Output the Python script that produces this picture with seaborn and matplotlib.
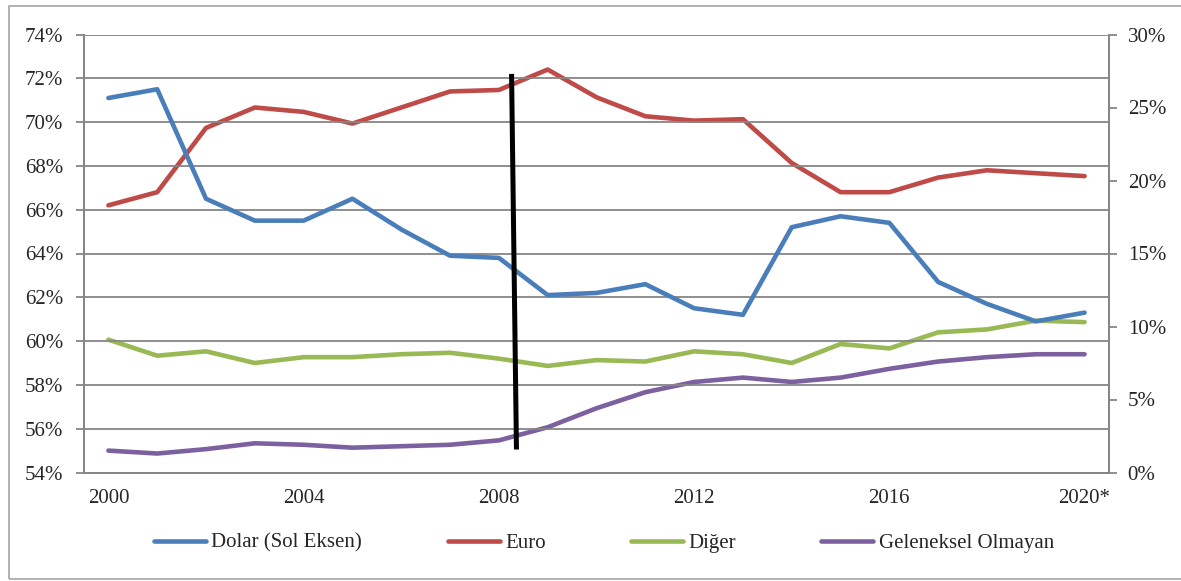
import matplotlib
matplotlib.use("Agg")
import matplotlib.pyplot as plt
import seaborn as sns
import pandas as pd
from matplotlib.patches import Rectangle
from matplotlib.ticker import FixedLocator, PercentFormatter

# Reserve shares (%)
years = [str(y) for y in range(2000, 2020)] + ["2020*"]
dolar = [71.1, 71.5, 66.5, 65.5, 65.5, 66.5, 65.1, 63.9, 63.8, 62.1, 62.2,
         62.6, 61.5, 61.2, 65.2, 65.7, 65.4, 62.7, 61.7, 60.9, 61.3]
euro = [18.3, 19.2, 23.6, 25.0, 24.7, 23.9, 25.0, 26.1, 26.2, 27.6, 25.7,
        24.4, 24.1, 24.2, 21.2, 19.2, 19.2, 20.2, 20.7, 20.5, 20.3]
diger = [9.1, 8.0, 8.3, 7.5, 7.9, 7.9, 8.1, 8.2, 7.8, 7.3, 7.7,
         7.6, 8.3, 8.1, 7.5, 8.8, 8.5, 9.6, 9.8, 10.4, 10.3]
geleneksel_olmayan = [1.5, 1.3, 1.6, 2.0, 1.9, 1.7, 1.8, 1.9, 2.2, 3.1, 4.4,
                      5.5, 6.2, 6.5, 6.2, 6.5, 7.1, 7.6, 7.9, 8.1, 8.1]

# 2008 crisis marker line (x in category units, y on left axis)
crisis_x = [8.26, 8.36]
crisis_y = [72.2, 55.05]

df = pd.DataFrame({"year": years, "Dolar": dolar, "Euro": euro,
                   "Diger": diger, "Geleneksel": geleneksel_olmayan})

sns.set_theme(style="white")
plt.rcParams["font.family"] = ["Liberation Serif", "DejaVu Serif"]
plt.rcParams["font.size"] = 15

fig = plt.figure(figsize=(11.81, 5.81), dpi=100)
ax = fig.add_axes([84 / 1181, 1 - 472.5 / 581, (1109 - 84) / 1181, 438 / 581])
ax2 = ax.twinx()

blue, red, green, purple = "#4A7EBB", "#BE4B48", "#98B954", "#7D60A0"
gray = "#868686"
lw = 3.3

sns.lineplot(data=df, x="year", y="Dolar", ax=ax, color=blue, linewidth=lw,
             sort=False, label="Dolar (Sol Eksen)", legend=False)
sns.lineplot(data=df, x="year", y="Euro", ax=ax2, color=red, linewidth=lw,
             sort=False, label="Euro", legend=False)
sns.lineplot(data=df, x="year", y="Diger", ax=ax2, color=green, linewidth=lw,
             sort=False, label="Diğer", legend=False)
sns.lineplot(data=df, x="year", y="Geleneksel", ax=ax2, color=purple, linewidth=lw,
             sort=False, label="Geleneksel Olmayan", legend=False)

ax.plot(crisis_x, crisis_y, color="black", linewidth=3.6, zorder=5,
        solid_capstyle="butt")
ax.set_zorder(ax2.get_zorder() + 1)
ax.patch.set_visible(False)

# left axis
ax.set_ylim(54, 74)
ax.set_yticks(range(54, 75, 2))
ax.yaxis.set_major_formatter(PercentFormatter(decimals=0))
ax.grid(axis="y", color=gray, linewidth=1.3)
ax.grid(axis="x", visible=False)

# right axis
ax2.set_ylim(0, 30)
ax2.set_yticks(range(0, 31, 5))
ax2.yaxis.set_major_formatter(PercentFormatter(decimals=0))
ax2.grid(False)

# x axis: tick marks at category boundaries, labels every 4 years
n = len(years)
ax.set_xlim(-0.5, n - 0.5)
ax.xaxis.set_major_locator(FixedLocator([i - 0.5 for i in range(n + 1)]))
ax.set_xticklabels([])
ax.xaxis.set_minor_locator(FixedLocator(list(range(0, n, 4))))
ax.set_xticklabels([years[i] for i in range(0, n, 4)], minor=True)
ax.tick_params(axis="x", which="minor", length=0, pad=12, labelsize=15)
ax.tick_params(axis="x", which="major", length=6, width=1.3, color=gray, direction="out")
ax.tick_params(axis="y", length=6, width=1.3, color=gray, direction="out",
               labelsize=15, pad=9)
ax2.tick_params(axis="y", length=6, width=1.3, color=gray, direction="out",
                labelsize=15, pad=7.5)
ax.set_xlabel("")
ax.set_ylabel("")
ax2.set_xlabel("")
ax2.set_ylabel("")

for a in (ax, ax2):
    for s in a.spines.values():
        s.set_color(gray)
        s.set_linewidth(1.3)
    a.spines["top"].set_visible(False)

handles = ax.get_lines()[:1] + ax2.get_lines()[:3]
labels = ["Dolar (Sol Eksen)", "Euro", "Diğer", "Geleneksel Olmayan"]
leg = fig.legend(handles, labels, loc="center", ncol=4, frameon=False,
                 bbox_to_anchor=(604 / 1181, 1 - 543 / 581), fontsize=15,
                 handlelength=2.5, handletextpad=0.25, columnspacing=4.1)
for h in leg.legend_handles:
    h.set_solid_capstyle("round")

# outer frame
fig.add_artist(Rectangle((9 / 1181, 1 - 579 / 581), 1.2, (579 - 5.5) / 581,
                         transform=fig.transFigure, fill=False,
                         edgecolor="#a6a6a6", linewidth=1.2, clip_on=False))

fig.savefig("out.png", dpi=100)
